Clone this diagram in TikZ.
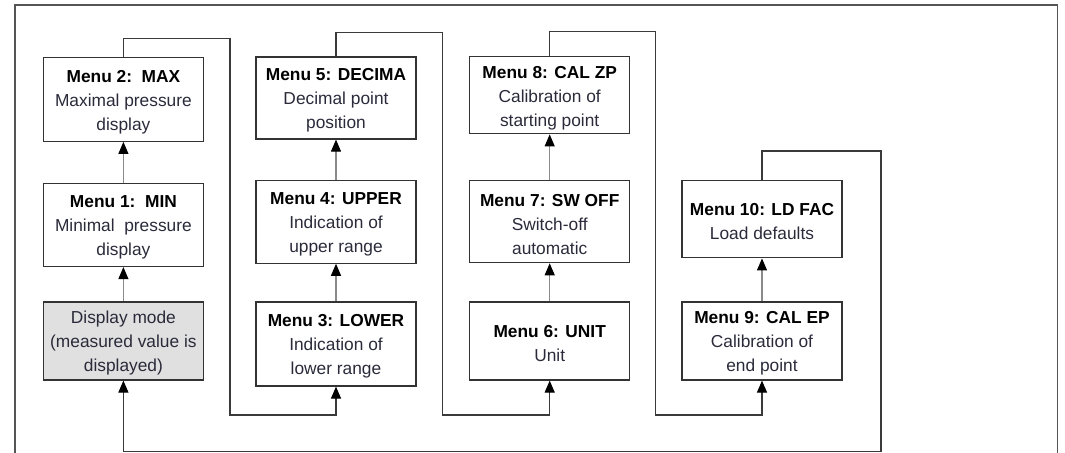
\documentclass[tikz,border=0pt]{standalone}
\usepackage{fontspec}
\setmainfont{Liberation Sans}
\usetikzlibrary{arrows.meta}
\definecolor{boxc}{HTML}{333333}
\definecolor{linkc}{HTML}{8A8A8A}
\definecolor{loopc}{HTML}{3A3A3A}
\definecolor{framec}{HTML}{555555}
\definecolor{dmfill}{HTML}{E0E0E0}
\definecolor{txtc}{HTML}{2A2A3A}
\begin{document}
\begin{tikzpicture}[x=0.75pt,y=-0.75pt,
  box/.style={draw=boxc, line width=0.9pt, minimum width=120pt, inner sep=0pt},
  lab/.style={shift={(0,2.5)}, inner sep=0pt, align=center,
    font=\fontsize{13}{18}\selectfont, text=txtc},
  link/.style={draw=linkc, line width=0.8pt, -{Triangle[width=7.5pt,length=9pt,color=black]}},
  loopline/.style={draw=loopc, line width=0.9pt, -{Triangle[width=7.5pt,length=9pt,color=black]}}]
\useasboundingbox (0,0) rectangle (1065,453);
\draw[framec, line width=1.1pt] (15,453) -- (15,5) -- (1057.5,5) -- (1057.5,453);

% column 1
\node[box, fill=dmfill, minimum height=58.5pt, label={[lab]center:{Display mode\\(measured value is\\displayed)}}] (dm) at (123.4,341) {};
\node[box, minimum height=62.25pt, label={[lab]center:{\textbf{\color{black}Menu 1:\ \ MIN}\\Minimal\ \ pressure\\display}}] (m1) at (123.4,225) {};
\node[box, minimum height=62.7pt, label={[lab]center:{\textbf{\color{black}Menu 2:\ \ MAX}\\Maximal pressure\\display}}] (m2) at (123.4,99.5) {};
% column 2
\node[box, minimum height=63pt, label={[lab]center:{\textbf{\color{black}Menu 3: LOWER}\\Indication of\\lower range}}] (m3) at (336,344) {};
\node[box, minimum height=62.25pt, label={[lab]center:{\textbf{\color{black}Menu 4: UPPER}\\Indication of\\upper range}}] (m4) at (336,221.7) {};
\node[box, minimum height=61.5pt, label={[lab]center:{\textbf{\color{black}Menu 5: DECIMA}\\Decimal point\\position}}] (m5) at (336,98) {};
% column 3
\node[box, minimum height=58.5pt, label={[lab]center:{\textbf{\color{black}Menu 6: UNIT}\\Unit}}] (m6) at (549.7,341) {};
\node[box, minimum height=61.5pt, label={[lab]center:{\textbf{\color{black}Menu 7: SW OFF}\\Switch-off\\automatic}}] (m7) at (549.7,221.7) {};
\node[box, minimum height=57.75pt, label={[lab]center:{\textbf{\color{black}Menu 8: CAL ZP}\\Calibration of\\starting point}}] (m8) at (549.7,95.3) {};
% column 4
\node[box, minimum height=58.5pt, label={[lab]center:{\textbf{\color{black}Menu 9: CAL EP}\\Calibration of\\end point}}] (m9) at (762,341) {};
\node[box, minimum height=58.2pt, label={[lab]center:{\textbf{\color{black}Menu 10: LD FAC}\\Load defaults}}] (m10) at (762,219) {};

% straight links
\draw[link] (dm) -- (m1);
\draw[link] (m1) -- (m2);
\draw[link] (m3) -- (m4);
\draw[link] (m4) -- (m5);
\draw[link] (m6) -- (m7);
\draw[link] (m7) -- (m8);
\draw[link] (m9) -- (m10);

% loop-back corners
\coordinate (c1) at (230,38.3);
\coordinate (c2) at (230,415);
\coordinate (c3) at (442.7,32.3);
\coordinate (c4) at (442.7,415);
\coordinate (c5) at (655.7,31.7);
\coordinate (c6) at (655.7,415);
\coordinate (c7) at (881,151);
\coordinate (c8) at (881,451.5);

\draw[loopline] (m2.north) |- (c1) -- (c2) -| (m3.south);
\draw[loopline] (m5.north) |- (c3) -- (c4) -| (m6.south);
\draw[loopline] (m8.north) |- (c5) -- (c6) -| (m9.south);
\draw[loopline] (m10.north) |- (c7) -- (c8) -| (dm.south);
\end{tikzpicture}
\end{document}
